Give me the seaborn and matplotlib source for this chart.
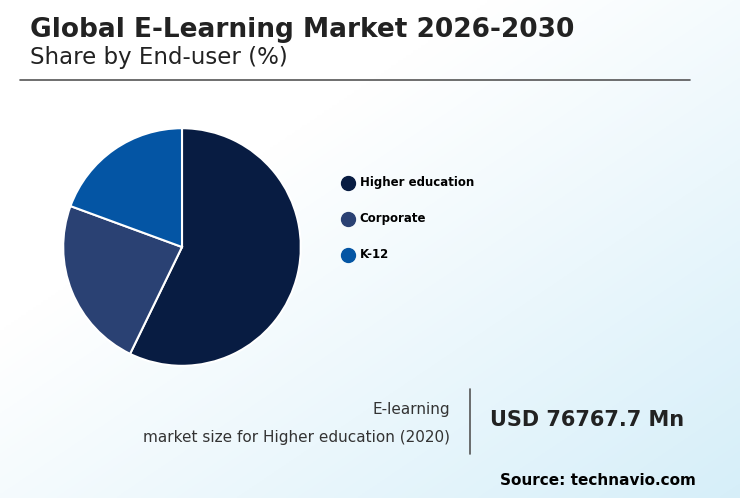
import matplotlib
matplotlib.use("Agg")
import matplotlib.pyplot as plt
import seaborn as sns
import numpy as np
from matplotlib.lines import Line2D

sns.set_theme(style="white")
plt.rcParams['font.family'] = ['DejaVu Sans']

categories = ["Higher education", "Corporate", "K-12"]
shares = [57.2, 23.4, 19.4]
colors = ["#081c42", "#2a4173", "#0455a4"]

fig = plt.figure(figsize=(7.40, 4.98), dpi=100)
bg = fig.add_axes([0, 0, 1, 1], zorder=-10)
yy, xx = np.mgrid[0:1:200j, 0:1:300j]
t = np.clip((xx * 0.6 + (1 - yy) * 0.6) - 0.4, 0, 1)
c0 = np.array([1, 1, 1]); c1 = np.array([0.80, 0.92, 0.97])
img = c0[None, None, :] * (1 - t[..., None]) + c1[None, None, :] * t[..., None]
bg.imshow(img, aspect="auto", extent=[0, 1, 0, 1], origin="lower")
bg.axis("off")

fig.text(0.04, 0.94, "Global E-Learning Market 2026-2030", fontsize=19, fontweight="bold", color="#222222", va="center")
fig.text(0.04, 0.884, "Share by End-user (%)", fontsize=16.5, color="#222222", va="center")
fig.add_artist(Line2D([0.027, 0.932], [0.84, 0.84], color="#555555", lw=1.2))

ax = fig.add_axes([0.0838, 0.263, 0.3243, 0.482])
ax.pie(shares, colors=colors, startangle=90, counterclock=False,
       wedgeprops=dict(edgecolor="white", linewidth=1.5))
ax.set_xlim(-1.01, 1.01); ax.set_ylim(-1.01, 1.01)
ax.set_aspect("equal")

for i, (c, col) in enumerate(zip(categories, colors)):
    y = 0.633 - i * 0.0723
    fig.add_artist(Line2D([0.47], [y], marker="o", markersize=10, color=col, lw=0))
    fig.text(0.486, y, c, fontsize=8.5, fontweight="bold", color="black", va="center")

fig.text(0.608, 0.178, "E-learning", fontsize=11, color="#333333", ha="right", va="center")
fig.text(0.608, 0.122, "market size for Higher education (2020)", fontsize=11, color="#333333", ha="right", va="center")
fig.add_artist(Line2D([0.635, 0.635], [0.088, 0.218], color="#555555", lw=1.2))
fig.text(0.662, 0.157, "USD 76767.7 Mn", fontsize=15, fontweight="bold", color="#222222", va="center")
fig.text(0.94, 0.036, "Source: technavio.com", fontsize=11, fontweight="bold", color="black", ha="right", va="center")

fig.savefig("out.png", dpi=100)
